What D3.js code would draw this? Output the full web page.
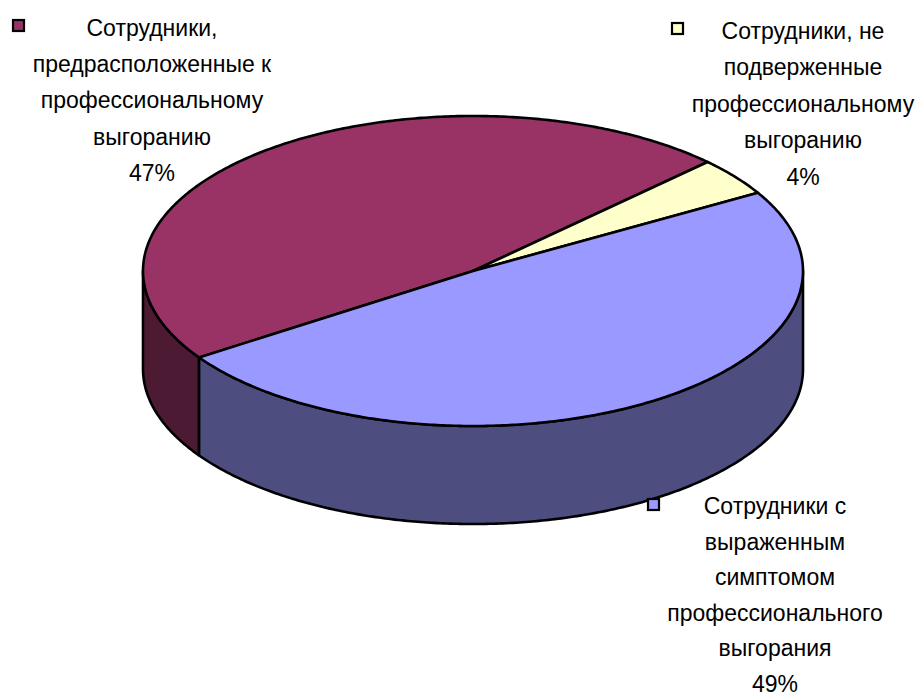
<!DOCTYPE html>
<html>
<head>
<meta charset="utf-8">
<script src="https://cdn.jsdelivr.net/npm/d3@7"></script>
<style>
  html, body { margin: 0; padding: 0; background: #fff; }
  svg { display: block; }
  text { font-family: "Liberation Sans", Arial, sans-serif; fill: #000; }
</style>
</head>
<body>
<svg id="chart" width="916" height="700"></svg>
<script>
// Share of employees by burnout status
const categories = [
  "Сотрудники, предрасположенные к профессиональному выгоранию",
  "Сотрудники, не подверженные профессиональному выгоранию",
  "Сотрудники с выраженным симптомом профессионального выгорания"
];
const values = [47, 4, 49];
const labelLines = [
  ["Сотрудники,", "предрасположенные к", "профессиональному", "выгоранию"],
  ["Сотрудники, не", "подверженные", "профессиональному", "выгоранию"],
  ["Сотрудники с", "выраженным", "симптомом", "профессионального", "выгорания"]
];
const topColors  = ["#993366", "#FFFFCC", "#9999FF"];
const sideColors = ["#4D1A33", "#80805F", "#4D4D80"];

const W = 916, H = 700;
const svg = d3.select("#chart");

// Ellipse geometry of the tilted pie
const cx = 473, cy = 271, rx = 330, ry = 155, depth = 98;
const startDeg = -123.9;

const pie = d3.pie().sort(null).value(d => d)
  .startAngle(startDeg * Math.PI / 180)
  .endAngle(startDeg * Math.PI / 180 + 2 * Math.PI);
const arcs = pie(values);

const pt = (a, dy = 0) => [cx + rx * Math.sin(a), cy - ry * Math.cos(a) + dy];
const sample = (a0, a1) => {
  const n = Math.max(2, Math.ceil(Math.abs(a1 - a0) / 0.01));
  return d3.range(n + 1).map(i => a0 + (a1 - a0) * i / n);
};
const line = d3.line();

// Outer walls: only the front half of the rim (angles between π/2 and 3π/2)
const frontA = Math.PI / 2, frontB = 3 * Math.PI / 2;
const wallG = svg.append("g");
arcs.forEach((d, i) => {
  [-2 * Math.PI, 0, 2 * Math.PI].forEach(shift => {
    const a0 = Math.max(d.startAngle + shift, frontA);
    const a1 = Math.min(d.endAngle + shift, frontB);
    if (a1 - a0 > 1e-4) {
      const angs = sample(a0, a1);
      const pts = angs.map(a => pt(a)).concat(angs.slice().reverse().map(a => pt(a, depth)));
      wallG.append("path")
        .attr("d", line(pts) + "Z")
        .attr("fill", sideColors[i])
        .attr("stroke", "#000")
        .attr("stroke-width", 2.6)
        .attr("stroke-linejoin", "round");
    }
  });
});

// Top face slices
const topG = svg.append("g");
arcs.forEach((d, i) => {
  const pts = [[cx, cy]].concat(sample(d.startAngle, d.endAngle).map(a => pt(a)));
  topG.append("path")
    .attr("d", line(pts) + "Z")
    .attr("fill", topColors[i])
    .attr("stroke", "#000")
    .attr("stroke-width", 2.6)
    .attr("stroke-linejoin", "round");
});

// Data labels with legend keys
const labelPos = [
  { x: 152, y: 28, kx: 13, ky: 20, step: 36.2 },
  { x: 803, y: 31, kx: 672, ky: 23, step: 36.4 },
  { x: 775, y: 506, kx: 648, ky: 499, step: 35.6 }
];
const fmt = d3.format(".0%");
const total = d3.sum(values);

const labG = svg.append("g");
values.forEach((v, i) => {
  const p = labelPos[i];
  const lines = labelLines[i].concat([fmt(v / total)]);
  const t = labG.append("text")
    .attr("text-anchor", "middle")
    .attr("font-size", 23);
  lines.forEach((s, j) => {
    t.append("tspan")
      .attr("x", p.x)
      .attr("y", p.y + j * p.step)
      .attr("dy", "0.35em")
      .text(s);
  });
  labG.append("rect")
    .attr("x", p.kx).attr("y", p.ky)
    .attr("width", 11).attr("height", 11)
    .attr("fill", topColors[i])
    .attr("stroke", "#000")
    .attr("stroke-width", 2.2);
});
</script>
</body>
</html>
